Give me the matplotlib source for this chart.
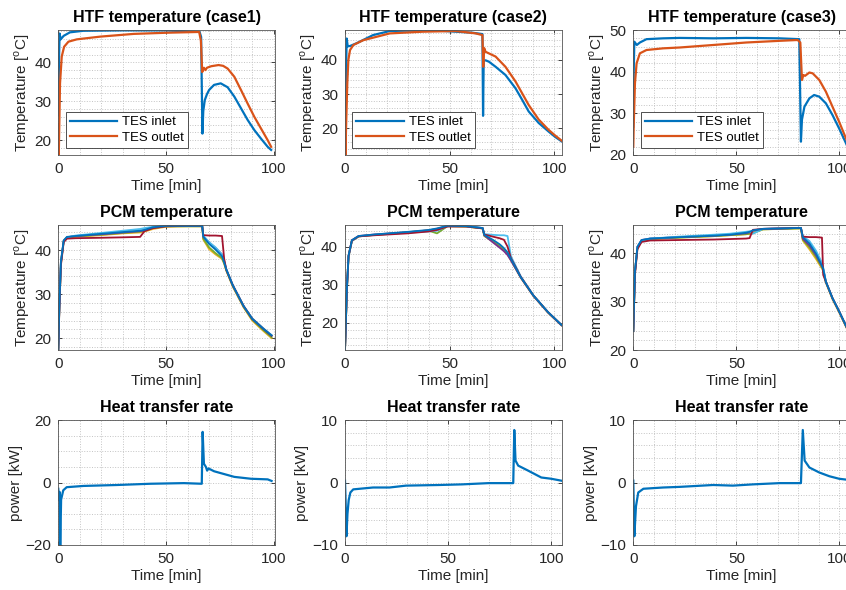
import matplotlib
matplotlib.use('Agg')
from matplotlib import pyplot as plt
from matplotlib.ticker import MultipleLocator

plt.rcParams['font.family'] = ['Liberation Sans', 'DejaVu Sans']

BLUE = '#0072BD'
ORANGE = '#D95319'
YELLOW = '#EDB120'
PURPLE = '#7E2F8E'
GREEN = '#77AC30'
CYAN = '#4DBEEE'
DARKRED = '#A2142F'
INK = '#262626'

# ---- HTF temperature, case 1 ----
t_in1 = [0, 0.3, 0.6, 1.1, 2.5, 5.4, 11.7, 30, 50, 65.6, 66.3, 66.9, 67.3, 68, 69, 70, 72.3, 75.4,
         78.6, 81.7, 84.8, 87.9, 91, 94.1, 97.2, 98.8]
T_in1 = [26.4, 40, 47.4, 45.9, 46.8, 47.7, 48.1, 48.2, 48.2, 47.8, 46.5, 21.7, 27.5, 30.3, 31.8, 32.9,
         34.2, 34.6, 33.6, 31.2, 28.2, 25.2, 22.6, 20.4, 18.3, 17.5]
t_out1 = [0, 0.2, 0.5, 0.8, 1.6, 2.7, 4.7, 8.6, 19.5, 35, 50.6, 65.4, 66.2, 66.8, 67.6, 68.3, 69, 71,
          74.4, 76.5, 78.6, 81.7, 84.8, 87.9, 91, 94.1, 97.2, 98.8]
T_out1 = [24.0, 15.8, 25.0, 34.6, 41.5, 44.0, 45.3, 45.9, 46.6, 47.3, 47.6, 47.8, 45.5, 37.5, 38.6, 38.0,
          38.6, 39.0, 39.3, 39.1, 38.4, 36.3, 32.9, 29.4, 26.0, 23.0, 20.0, 18.3]

# ---- HTF temperature, case 2 ----
t_in2 = [0, 0.3, 0.8, 1.3, 2.4, 5.5, 13.4, 21.4, 29.3, 45, 61, 65.7, 66.0, 66.3, 67.2, 68.8, 72, 76.7,
         81.5, 84.7, 87.8, 92.6, 97.3, 100.5, 103.6]
T_in2 = [16.6, 30, 46.3, 44.0, 44.1, 44.9, 47.3, 48.5, 48.6, 48.6, 48.0, 47.6, 23.6, 39.8, 39.9, 39.5,
         38.0, 35.6, 31.7, 28.3, 24.9, 21.5, 19.0, 17.4, 16.1]
t_out2 = [0, 0.2, 0.5, 1.1, 1.6, 2.4, 4, 8.7, 21.4, 37.2, 53, 62.5, 65.7, 66.1, 66.5, 67.2, 72, 76.7,
          81.5, 84.7, 87.8, 92.6, 97.3, 100.5, 103.6]
T_out2 = [23.4, 12.0, 20.0, 33.2, 40.0, 42.9, 44.4, 45.8, 47.8, 48.3, 48.5, 47.8, 47.3, 38.0, 43.5, 42.4,
          41.0, 38.0, 33.7, 30.2, 26.8, 22.5, 19.5, 17.8, 16.3]

# ---- HTF temperature, case 3 ----
t_in3 = [0, 0.2, 0.5, 1.7, 3.2, 6.4, 14.5, 22.5, 39, 54.8, 70.9, 80.5, 81.3, 81.8, 83.0, 85.4, 87.7,
         90.2, 93.4, 96.6, 99.8, 102.8, 104.8]
T_in3 = [26.8, 40, 47.2, 46.4, 47.0, 47.8, 48.0, 48.1, 48.0, 48.1, 48.0, 47.8, 23.2, 28.5, 31.6, 33.6,
         34.4, 34.0, 32.4, 29.6, 26.4, 23.2, 21.0]
t_out3 = [0, 0.2, 0.8, 1.6, 3.2, 6.4, 14.5, 22.5, 38.7, 54.8, 70.9, 79.7, 81.0, 81.8, 82.5, 83.3, 85.4,
          87.0, 90.2, 93.4, 96.6, 99.8, 102.8, 104.8]
T_out3 = [22.0, 27.0, 37.2, 42.0, 44.4, 45.2, 45.6, 45.8, 46.4, 47.0, 47.4, 47.6, 47.0, 38.0, 39.2, 39.0,
          39.8, 39.6, 38.0, 35.2, 31.6, 28.0, 24.4, 22.0]

# ---- PCM temperature, case 1 (several sensors) ----
t_pcm1 = [0, 0.5, 1.2, 2.5, 4, 8, 20, 30, 38, 40, 44, 50, 60, 66.8, 67.3, 70, 73, 76, 77, 78, 81, 86,
          90, 95, 99]
pcm1_yellow = [17.5, 27.0, 36.8, 42.0, 42.8, 43.0, 43.4, 43.8, 44.0, 44.2, 44.8, 45.3, 45.4, 45.4, 42.4,
               40.2, 39.0, 38.0, 36.9, 35.3, 31.7, 27.0, 24.0, 21.7, 20.0]
pcm1_green = [17.5, 27.2, 37.1, 42.1, 42.9, 43.1, 43.5, 43.9, 44.2, 44.4, 45.0, 45.4, 45.4, 45.4, 42.6,
              40.6, 39.3, 38.2, 37.0, 35.4, 31.8, 27.1, 24.2, 21.9, 20.2]
pcm1_purple = [17.5, 27.3, 37.2, 42.1, 42.9, 43.2, 43.6, 44.0, 44.3, 44.5, 45.1, 45.5, 45.5, 45.5, 43.0,
               41.7, 40.5, 39.0, 37.4, 35.6, 32.0, 27.3, 24.4, 22.2, 20.6]
pcm1_cyan = [17.5, 27.0, 37.0, 42.0, 42.9, 43.3, 43.9, 44.4, 44.8, 45.0, 45.3, 45.5, 45.5, 45.5, 43.3,
             41.8, 40.6, 39.0, 37.5, 35.6, 32.0, 27.3, 24.5, 22.3, 20.7]
pcm1_red = [17.5, 26.8, 36.5, 41.8, 42.6, 42.7, 42.8, 42.9, 43.0, 44.3, 45.0, 45.4, 45.5, 45.5, 43.4,
            43.3, 43.3, 43.2, 38.0, 35.5, 32.0, 27.3, 24.4, 22.2, 20.5]
pcm1_blue = [17.5, 27.4, 37.3, 42.2, 43.0, 43.2, 43.7, 44.1, 44.4, 44.6, 45.2, 45.5, 45.5, 45.5, 43.1,
             41.4, 40.1, 38.6, 37.2, 35.6, 32.0, 27.3, 24.4, 22.2, 20.6]

# ---- PCM temperature, case 2 ----
t_pcm2 = [0, 0.9, 1.7, 3.3, 6.5, 14, 30, 40, 44, 49, 58, 65.8, 66.6, 71, 74, 76, 77.7, 79.3, 84, 90,
          97, 103.5]
pcm2_yellow = [12.7, 28.6, 37.4, 41.5, 42.7, 43.1, 43.8, 44.3, 44.6, 45.4, 45.3, 44.8, 42.9, 41.5, 40.3,
               39.3, 38.2, 36.6, 31.9, 27.1, 22.7, 19.3]
pcm2_green = [12.7, 28.8, 37.6, 41.6, 42.7, 43.1, 43.7, 44.2, 43.5, 45.4, 45.3, 44.8, 42.8, 41.2, 40.0,
              39.0, 38.0, 36.5, 31.9, 27.1, 22.7, 19.3]
pcm2_purple = [12.7, 28.9, 37.6, 41.7, 42.8, 43.2, 43.8, 44.3, 44.7, 45.5, 45.4, 44.9, 43.0, 41.0, 39.7,
               38.8, 37.8, 36.4, 31.9, 27.1, 22.7, 19.3]
pcm2_cyan = [12.7, 28.5, 37.3, 41.5, 42.7, 43.1, 43.7, 44.0, 44.2, 45.4, 45.4, 44.9, 43.3, 43.1, 43.0,
             43.0, 42.8, 37.5, 32.2, 27.2, 22.8, 19.4]
pcm2_red = [12.7, 28.7, 37.5, 41.6, 42.7, 43.0, 43.5, 44.0, 44.4, 45.3, 45.3, 44.8, 43.2, 42.6, 42.2,
            41.8, 40.0, 37.0, 32.1, 27.2, 22.8, 19.4]
pcm2_blue = [12.7, 29.0, 37.7, 41.7, 42.8, 43.2, 43.9, 44.4, 44.8, 45.5, 45.4, 44.9, 43.1, 41.7, 40.6,
             39.6, 38.5, 36.8, 32.0, 27.2, 22.8, 19.4]

# ---- PCM temperature, case 3 ----
t_pcm3 = [0, 0.8, 2, 4, 8.1, 22.4, 39, 46.8, 54.7, 56.4, 58, 62.9, 81.3, 82.2, 85.4, 88.6, 91.5, 92.1,
          93.4, 96.6, 99.8, 102.8, 104.8]
pcm3_yellow = [23.9, 36.0, 41.1, 42.5, 42.9, 43.2, 43.5, 43.7, 43.9, 44.0, 44.2, 44.9, 45.1, 42.6, 40.8,
               38.8, 36.8, 36.3, 33.9, 30.5, 27.8, 25.1, 23.3]
pcm3_green = [23.9, 36.1, 41.2, 42.6, 42.9, 43.2, 43.5, 43.7, 43.9, 44.0, 44.1, 44.9, 45.1, 42.8, 41.2,
              39.2, 37.0, 36.5, 34.0, 30.6, 27.9, 25.2, 23.4]
pcm3_purple = [23.9, 36.1, 41.3, 42.7, 43.0, 43.3, 43.6, 43.8, 44.1, 44.3, 44.6, 45.0, 45.2, 43.0, 41.6,
               39.6, 37.3, 36.7, 34.1, 30.7, 28.0, 25.3, 23.5]
pcm3_cyan = [23.9, 36.0, 41.2, 42.6, 43.0, 43.4, 43.8, 44.0, 44.4, 44.5, 44.0, 45.0, 45.2, 43.5, 42.5,
             40.5, 38.0, 37.0, 34.1, 30.7, 28.0, 25.3, 23.5]
pcm3_red = [23.9, 35.5, 40.8, 42.3, 42.6, 42.7, 42.8, 42.9, 43.0, 43.1, 44.8, 45.0, 45.2, 43.4, 43.3,
            43.3, 43.2, 35.5, 34.1, 30.7, 28.0, 25.3, 23.5]
pcm3_blue = [23.9, 36.2, 41.3, 42.7, 43.0, 43.3, 43.6, 43.8, 44.2, 44.4, 44.7, 45.0, 45.2, 43.3, 42.0,
             39.9, 37.4, 36.8, 34.1, 30.7, 28.0, 25.3, 23.5]

# ---- Heat transfer rate ----
t_p1 = [0, 0.3, 0.6, 0.9, 1.3, 2.3, 3.9, 11.7, 27.2, 42.8, 58.3, 66.6, 67.0, 67.6, 68.5, 69.1, 69.7,
        72.3, 75.4, 81.7, 89.4, 97.2, 99.0]
P1 = [-2.0, -5.5, -3.0, -20.5, -5.5, -2.5, -1.5, -1.1, -0.8, -0.4, -0.2, -0.4, 16.2, 6.0, 5.0, 3.8,
      4.5, 3.6, 3.0, 1.8, 1.2, 1.0, 0.5]
t_p2 = [0, 0.3, 0.7, 1.2, 1.8, 2.6, 4, 13.6, 21.6, 29.6, 45.6, 56.8, 69.6, 81.6, 82.1, 82.7, 84, 88.8,
        95.2, 100, 104.8]
P2 = [0.3, -3.0, -8.6, -5.0, -2.8, -1.6, -1.1, -0.8, -0.8, -0.5, -0.4, -0.3, -0.1, -0.1, 8.4, 3.5, 2.7,
      1.9, 0.8, 0.6, 0.3]
t_p3 = [0, 0.5, 1.3, 2.4, 4.9, 14.5, 22.5, 38.7, 48.3, 58, 70.9, 81.3, 82.2, 83.1, 85.4, 90.2, 95.1,
        99.8, 104.8]
P3 = [0.3, -8.6, -3.8, -1.6, -1.0, -0.8, -0.7, -0.4, -0.5, -0.3, -0.1, -0.1, 8.4, 3.5, 2.4, 1.6, 1.0,
      0.6, 0.4]

FIG_W, FIG_H = 846, 590
COL_LEFT = [58.3, 345, 633.3]
ROW_TOP = [30, 225, 420]
AX_W, AX_H = 216.5, 125

T_LABEL = r'Temperature [$^\mathregular{o}$C]'


def make_axes(fig, row, col):
    left = COL_LEFT[col]
    top = ROW_TOP[row]
    return fig.add_axes([left / FIG_W, 1 - (top + AX_H) / FIG_H, AX_W / FIG_W, AX_H / FIG_H])


def style(ax, title, xlim, ylim, ymajor, yminor, ylabel):
    ax.set_xlim(xlim)
    ax.set_ylim(ylim)
    ax.xaxis.set_major_locator(MultipleLocator(50))
    ax.xaxis.set_minor_locator(MultipleLocator(10))
    ax.yaxis.set_major_locator(MultipleLocator(ymajor))
    ax.yaxis.set_minor_locator(MultipleLocator(yminor))
    ax.grid(which='both', linestyle=':', color='#c4c4c4', linewidth=0.7)
    ax.set_axisbelow(True)
    ax.tick_params(which='major', direction='in', top=True, right=True, length=3, width=0.6,
                   colors=INK, labelsize=11, pad=5)
    ax.tick_params(which='minor', length=0)
    for sp in ax.spines.values():
        sp.set_color('#555555')
        sp.set_linewidth(0.6)
    ax.set_title(title, fontsize=11.5, fontweight='bold', color='black', pad=6)
    ax.set_xlabel('Time [min]', fontsize=11, color=INK, labelpad=2)
    ax.set_ylabel(ylabel, fontsize=11, color=INK, labelpad=2)


fig = plt.figure(figsize=(FIG_W / 100, FIG_H / 100), dpi=100)

# row 1: HTF temperature
htf = [(t_in1, T_in1, t_out1, T_out1, 'HTF temperature (case1)', (0, 100.5), (16.2, 48.3)),
       (t_in2, T_in2, t_out2, T_out2, 'HTF temperature (case2)', (0, 103.5), (12.1, 48.8)),
       (t_in3, T_in3, t_out3, T_out3, 'HTF temperature (case3)', (0, 105), (20, 50))]
for col, (ti, Ti, to, To, title, xl, yl) in enumerate(htf):
    ax = make_axes(fig, 0, col)
    ax.plot(ti, Ti, color=BLUE, linewidth=1.6, label='TES inlet')
    ax.plot(to, To, color=ORANGE, linewidth=1.6, label='TES outlet')
    style(ax, title, xl, yl, 10, 2, T_LABEL)
    leg = ax.legend(loc='lower left', fontsize=9.5, handlelength=3.6, fancybox=False, framealpha=1,
                    edgecolor='#333333', borderpad=0.3, labelspacing=0.25, handletextpad=0.4,
                    borderaxespad=0.55)
    leg.get_frame().set_linewidth(0.6)

# row 2: PCM temperature
pcm = [(t_pcm1, [pcm1_yellow, pcm1_green, pcm1_purple, pcm1_cyan, pcm1_red, pcm1_blue], (0, 100.5), (17.3, 45.7)),
       (t_pcm2, [pcm2_yellow, pcm2_green, pcm2_purple, pcm2_cyan, pcm2_red, pcm2_blue], (0, 103.5), (12.8, 45.7)),
       (t_pcm3, [pcm3_yellow, pcm3_green, pcm3_purple, pcm3_cyan, pcm3_red, pcm3_blue], (0, 105), (20, 45.8))]
pcm_colors = [YELLOW, GREEN, PURPLE, CYAN, DARKRED, BLUE]
for col, (t, sensors, xl, yl) in enumerate(pcm):
    ax = make_axes(fig, 1, col)
    for vals, c in zip(sensors, pcm_colors):
        ax.plot(t, vals, color=c, linewidth=1.3)
    style(ax, 'PCM temperature', xl, yl, 10, 2, T_LABEL)

# row 3: heat transfer rate
power = [(t_p1, P1, (0, 100.5), (-20, 20), 20, 5),
         (t_p2, P2, (0, 105), (-10, 10), 10, 2),
         (t_p3, P3, (0, 105), (-10, 10), 10, 2)]
for col, (t, p, xl, yl, ymaj, ymin) in enumerate(power):
    ax = make_axes(fig, 2, col)
    ax.plot(t, p, color=BLUE, linewidth=1.6)
    style(ax, 'Heat transfer rate', xl, yl, ymaj, ymin, 'power [kW]')

fig.savefig('out.png', dpi=100)
